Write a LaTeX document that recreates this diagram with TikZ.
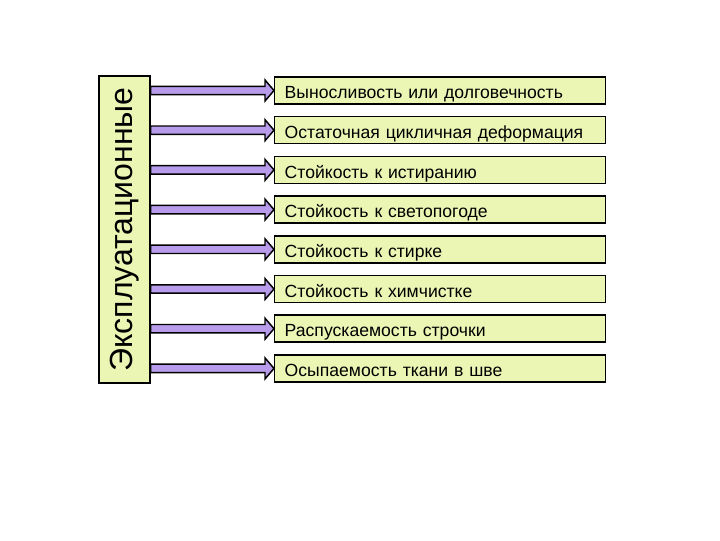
\documentclass[tikz,border=0pt]{standalone}
\usepackage{fontspec}
\setmainfont{Liberation Sans}
\usetikzlibrary{calc}
\definecolor{boxfill}{RGB}{235,245,180}
\definecolor{arrowfill}{RGB}{185,155,235}
\tikzset{
  itembox/.style={draw=black, fill=boxfill, line width=1.1pt, anchor=west,
    minimum height=20.25pt, text width=233pt, inner xsep=7.5pt, inner ysep=0pt,
    text height=12.3pt, text depth=0pt,
    align=left, font=\fontsize{13.2}{15}\selectfont},
  groupbox/.style={draw=black, fill=boxfill, line width=1.1pt,
    minimum width=38.25pt, minimum height=230.25pt, inner sep=0pt,
    font=\fontsize{24}{27}\selectfont},
  fatarrow/.style={draw=black, fill=arrowfill, line width=1.1pt, line join=miter,
    to path={($(\tikztostart)+(0,4.2)$) -- ($(\tikztotarget)+(-9,4.2)$)
      -- ($(\tikztotarget)+(-9,10.5)$) -- (\tikztotarget)
      -- ($(\tikztotarget)+(-9,-10.5)$) -- ($(\tikztotarget)+(-9,-4.2)$)
      -- ($(\tikztostart)+(0,-4.2)$) -- cycle}}
}
\begin{document}
\begin{tikzpicture}[x=0.75pt, y=-0.75pt]
  \useasboundingbox (0,0) rectangle (720,540);
  \node[groupbox] (group) at (124.5,229.5) {\rotatebox{90}{Эксплуатационные}};
  \foreach \i/\txt in {1/Выносливость или долговечность,
                       2/Остаточная цикличная деформация,
                       3/Стойкость к истиранию,
                       4/Стойкость к светопогоде,
                       5/Стойкость к стирке,
                       6/Стойкость к химчистке,
                       7/Распускаемость строчки,
                       8/Осыпаемость ткани в шве} {
    \node[itembox] (item\i) at (274,{90.5+39.7*(\i-1)}) {\txt};
    \draw[fatarrow] (group.east |- item\i.west) to (item\i.west);
  }
\end{tikzpicture}
\end{document}
